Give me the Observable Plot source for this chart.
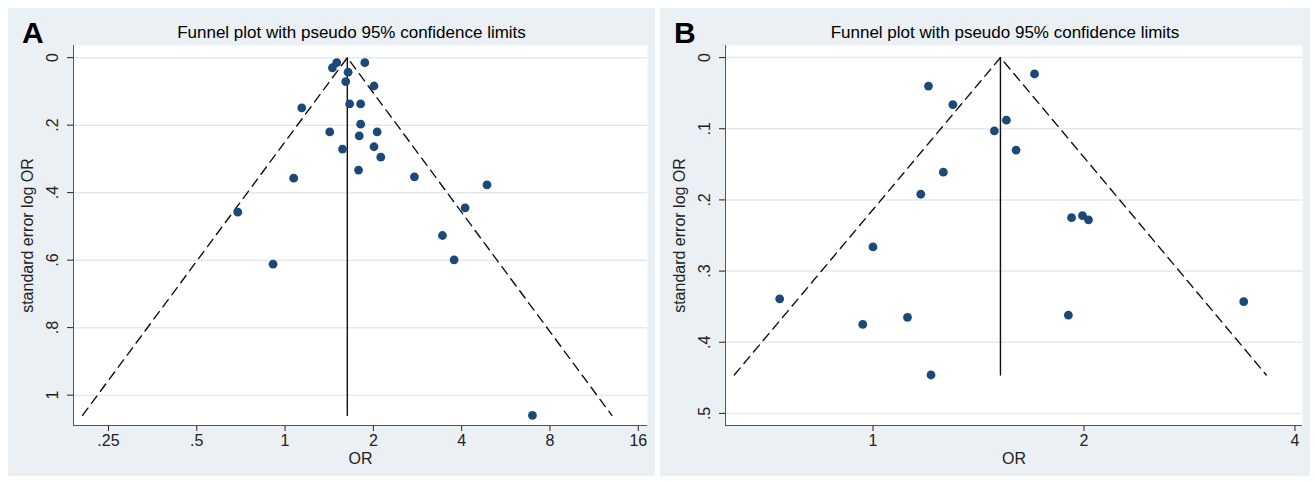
<!DOCTYPE html>
<html><head><meta charset="utf-8">
<script src="https://cdn.jsdelivr.net/npm/d3@7"></script>
<script src="https://cdn.jsdelivr.net/npm/@observablehq/plot@0.6"></script>
<style>
body{margin:0;background:#fff;font-family:"Liberation Sans",Arial,sans-serif;}
.panel{position:absolute;top:8px;height:468px;background:#eaf0f3;}
.letter{position:absolute;left:14px;top:8px;font-weight:bold;font-size:30px;}
.title{position:absolute;top:15px;width:100%;text-align:center;font-size:17px;padding-left:40px;box-sizing:border-box;}
.chart{position:absolute;left:0;top:32px;}
</style></head>
<body>
<div class="panel" id="pa" style="left:8px;width:647px"><div class="letter">A</div><div class="title">Funnel plot with pseudo 95% confidence limits</div><div class="chart"></div></div>
<div class="panel" id="pb" style="left:660px;width:650px"><div class="letter">B</div><div class="title">Funnel plot with pseudo 95% confidence limits</div><div class="chart"></div></div>
<script>
// Panel A studies
const orA = [1.50,1.87,1.45,1.64,1.61,2.01,1.14,1.66,1.81,1.81,1.42,2.06,1.79,2.01,1.57,2.12,1.78,2.76,1.07,4.88,4.11,0.69,3.44,3.77,0.91,6.97];
const seA = [0.015,0.015,0.030,0.043,0.071,0.084,0.149,0.137,0.137,0.197,0.220,0.220,0.232,0.264,0.271,0.295,0.333,0.353,0.357,0.377,0.445,0.458,0.527,0.599,0.612,1.060];
const funnelA = {center:1.63, seMax:1.06, low:0.204, high:13.0};
const ticksXA = [0.25,0.5,1,2,4,8,16];
const ticksYA = [0,0.2,0.4,0.6,0.8,1];
// Panel B studies
const orB = [1.20,1.70,1.30,1.55,1.49,1.60,1.26,1.17,1.92,1.99,2.03,1.00,0.736,0.967,1.12,1.90,3.38,1.21];
const seB = [0.040,0.023,0.066,0.088,0.103,0.130,0.161,0.192,0.225,0.222,0.228,0.266,0.339,0.375,0.365,0.362,0.343,0.446];
const funnelB = {center:1.52, seMax:0.446, low:0.634, high:3.64};
const ticksXB = [1,2,4];
const ticksYB = [0,0.1,0.2,0.3,0.4,0.5];

const fmt = d => d === 0 ? "0" : String(d).replace(/^0\./, ".");

function funnel(el, ors, ses, f, xDom, yDom, tx, ty, w) {
  const pts = ors.map((o, i) => ({or: o, se: ses[i]}));
  const edges = [{or: f.low, se: f.seMax}, {or: f.center, se: 0}, {or: f.high, se: f.seMax}];
  const mid = [{or: f.center, se: 0}, {or: f.center, se: f.seMax}];
  document.querySelector(el + " .chart").append(Plot.plot({
    width: w, height: 436,
    marginLeft: 65, marginRight: 8, marginTop: 5, marginBottom: 51,
    style: {fontFamily: "Liberation Sans, Arial, sans-serif", fontSize: "16px", color: "#222", background: "transparent"},
    x: {type: "log", domain: xDom},
    y: {domain: yDom, reverse: true},
    marks: [
      Plot.frame({fill: "white", stroke: null}),
      Plot.gridY(ty, {stroke: "#e6e9ec", strokeOpacity: 1, strokeWidth: 1.5}),
      Plot.axisX(tx, {tickFormat: () => "", tickSize: 6, label: null}),
      Plot.text(tx, {x: d => d, frameAnchor: "bottom", text: fmt, dy: 20, fontSize: 16, fill: "#222"}),
      Plot.text(["OR"], {frameAnchor: "bottom", text: d => d, dy: 38, fontSize: 16, fill: "#222"}),
      Plot.axisY(ty, {tickFormat: fmt, fontSize: 16, tickSize: 6, tickRotate: -90, tickPadding: 10, label: "standard error log OR", labelAnchor: "center", labelOffset: 52, labelArrow: "none"}),
      Plot.ruleX([xDom[0]], {stroke: "#555"}),
      Plot.ruleY([yDom[1]], {stroke: "#555"}),
      Plot.line(edges, {x: "or", y: "se", stroke: "#111", strokeWidth: 1.4, strokeDasharray: "9,6"}),
      Plot.line(mid, {x: "or", y: "se", stroke: "#111", strokeWidth: 1.4}),
      Plot.dot(pts, {x: "or", y: "se", r: 4.4, fill: "#1b4a78", stroke: null})
    ]
  }));
}
funnel("#pa", orA, seA, funnelA, [0.19, 17.2], [-0.036, 1.09], ticksXA, ticksYA, 647);
funnel("#pb", orB, seB, funnelB, [0.616, 4.1], [-0.017, 0.517], ticksXB, ticksYB, 650);
</script>
</body></html>
